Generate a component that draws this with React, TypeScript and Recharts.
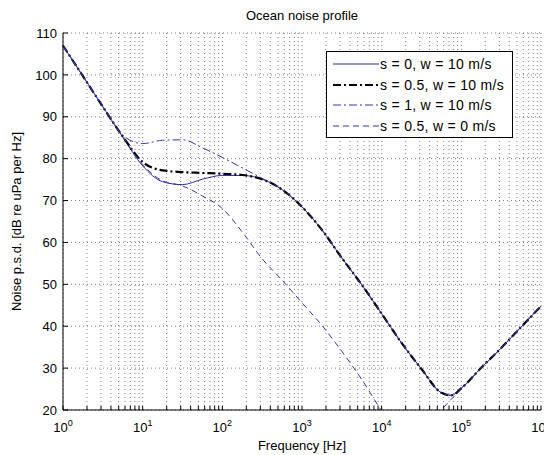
import React from 'react';
import { LineChart, Line, XAxis, YAxis, CartesianGrid, Legend, Label } from 'recharts';

// frequency samples [Hz] and the four noise curves [dB re uPa per Hz]
const freqHz = [
  1, 1.778, 3.162, 5.623, 10, 17.78, 31.62, 56.23, 100, 177.8, 316.2, 562.3, 1000,
  1778, 3162, 5623, 10000, 17783, 31623, 56234, 74989, 100000, 177828, 316228, 562341, 1000000,
];
const noiseS0W10 = [
  107.0, 99.7, 92.4, 85.1, 78.3, 74.5, 73.8, 75.1, 76.0, 76.0, 75.1, 72.6, 68.5,
  63.0, 56.3, 49.9, 43.0, 36.0, 29.8, 24.1, 23.5, 25.2, 30.1, 34.8, 39.8, 44.8,
];
const noiseS05W10 = [
  107.0, 99.7, 92.4, 85.3, 79.2, 77.2, 76.8, 76.6, 76.4, 76.1, 75.1, 72.6, 68.5,
  63.0, 56.3, 49.9, 43.0, 36.0, 29.8, 24.1, 23.5, 25.2, 30.1, 34.8, 39.8, 44.8,
];
const noiseS1W10 = [
  107.0, 99.7, 92.6, 85.6, 83.6, 84.4, 84.5, 82.6, 80.3, 77.8, 75.3, 72.6, 68.5,
  63.0, 56.3, 49.9, 43.0, 36.0, 29.8, 24.1, 23.5, 25.2, 30.1, 34.8, 39.8, 44.8,
];
const noiseS05W0 = [
  107.0, 99.7, 92.4, 85.3, 78.6, 74.7, 73.5, 71.1, 68.1, 62.5, 56.1, 51.0, 45.6,
  40.2, 34.0, 27.3, 19.8, 13.5, 15.6, 20.1, 22.6, 25.0, 30.0, 34.8, 39.8, 44.8,
];

const decadeTicks = [1, 10, 100, 1000, 10000, 100000, 1000000];
const decadeExps = ['0', '1', '2', '3', '4', '5', '6'];
const minorSteps = [2, 3, 4, 5, 6, 7, 8, 9];
const yTicks = [20, 30, 40, 50, 60, 70, 80, 90, 100, 110];

const xTicks = decadeTicks.flatMap((d, i) =>
  i < decadeTicks.length - 1 ? [d, ...minorSteps.map((m) => m * d)] : [d]
);

const data = freqHz.map((f, i) => ({
  f,
  a: noiseS0W10[i],
  b: noiseS05W10[i],
  c: noiseS1W10[i],
  d: noiseS05W0[i],
}));

const dashDot = '8 3 2 3';
const series = [
  { key: 'a', name: 's = 0, w = 10 m/s', color: '#2b2b9e', width: 1, dash: undefined },
  { key: 'b', name: 's = 0.5, w = 10 m/s', color: '#000000', width: 2.2, dash: dashDot },
  { key: 'c', name: 's = 1, w = 10 m/s', color: '#3636a8', width: 1, dash: dashDot },
  { key: 'd', name: 's = 0.5, w = 0 m/s', color: '#3636a8', width: 1, dash: '6 4' },
];

const XTick = (props: any) => {
  const { x, y, payload } = props;
  const i = decadeTicks.indexOf(payload.value);
  if (i < 0) return null;
  return (
    <text x={x} y={y} dy={13} textAnchor="middle" fontSize={13} fill="#000">
      <tspan>10</tspan>
      <tspan dy={-6} fontSize={9}>{decadeExps[i]}</tspan>
    </text>
  );
};

const LegendBox = () => (
  <div
    style={{
      boxSizing: 'border-box',
      width: 187,
      height: 87,
      border: '1px solid #000',
      background: '#fff',
      padding: '2px 0 0 6px',
      fontSize: 14,
      letterSpacing: 0.3,
      color: '#000',
    }}
  >
    {series.map((s) => (
      <div key={s.key} style={{ display: 'flex', alignItems: 'center', height: 20.5 }}>
        <svg width={46} height={8} style={{ flex: 'none' }}>
          <line x1={0} x2={46} y1={4} y2={4} stroke={s.color} strokeWidth={s.width} strokeDasharray={s.dash} />
        </svg>
        <span style={{ marginLeft: 1, whiteSpace: 'nowrap' }}>{s.name}</span>
      </div>
    ))}
  </div>
);

export default function App() {
  return (
    <div style={{ position: 'absolute', left: 0, top: 0, width: 544, height: 455, background: '#fff', fontFamily: '"Liberation Sans", Arial, sans-serif' }}>
      <div style={{ position: 'absolute', left: 63, top: 8, width: 478, textAlign: 'center', fontSize: 13, lineHeight: '15px', color: '#000' }}>
        Ocean noise profile
      </div>
      <LineChart width={544} height={455} data={data} margin={{ top: 33, right: 3, left: 0, bottom: 0 }}>
        <CartesianGrid stroke="#000" strokeOpacity={0.5} strokeDasharray="1 3" />
        <XAxis
          dataKey="f"
          type="number"
          scale="log"
          domain={[1, 1000000]}
          ticks={xTicks}
          interval={0}
          height={45}
          tick={<XTick />}
          tickSize={-4}
          tickMargin={13}
          tickLine={{ stroke: '#000' }}
          axisLine={{ stroke: '#000' }}
        >
          <Label
            content={(p: any) => (
              <text x={p.viewBox.x + p.viewBox.width / 2} y={450} textAnchor="middle" fontSize={13} fill="#000">
                Frequency [Hz]
              </text>
            )}
          />
        </XAxis>
        <XAxis
          xAxisId="top"
          orientation="top"
          dataKey="f"
          type="number"
          scale="log"
          domain={[1, 1000000]}
          ticks={xTicks}
          interval={0}
          height={0}
          mirror
          tick={false}
          tickSize={4}
          tickLine={{ stroke: '#000' }}
          axisLine={{ stroke: '#000' }}
        />
        <YAxis
          type="number"
          domain={[20, 110]}
          ticks={yTicks}
          interval={0}
          allowDataOverflow
          width={63}
          tickSize={-5}
          tickMargin={11}
          tick={{ fill: '#000', fontSize: 13 }}
          tickLine={{ stroke: '#000' }}
          axisLine={{ stroke: '#000' }}
        >
          <Label
            content={(p: any) => {
              const cx = 18;
              const cy = p.viewBox.y + p.viewBox.height / 2;
              return (
                <text x={cx} y={cy} transform={`rotate(-90 ${cx} ${cy})`} textAnchor="middle" dominantBaseline="middle" fontSize={13} fill="#000">
                  Noise p.s.d. [dB re uPa per Hz]
                </text>
              );
            }}
          />
        </YAxis>
        <YAxis
          yAxisId="right"
          orientation="right"
          type="number"
          domain={[20, 110]}
          ticks={yTicks}
          interval={0}
          width={0}
          mirror
          tick={false}
          tickSize={5}
          tickLine={{ stroke: '#000' }}
          axisLine={{ stroke: '#000' }}
        />
        <Legend
          content={<LegendBox />}
          layout="horizontal"
          verticalAlign="middle"
          align="center"
          wrapperStyle={{ left: 326, top: 51, width: 187, height: 87 }}
        />
        {series.map((s) => (
          <Line
            key={s.key}
            type="monotone"
            dataKey={s.key}
            name={s.name}
            stroke={s.color}
            strokeWidth={s.width}
            strokeDasharray={s.dash}
            dot={false}
            activeDot={false}
            isAnimationActive={false}
          />
        ))}
      </LineChart>
    </div>
  );
}
